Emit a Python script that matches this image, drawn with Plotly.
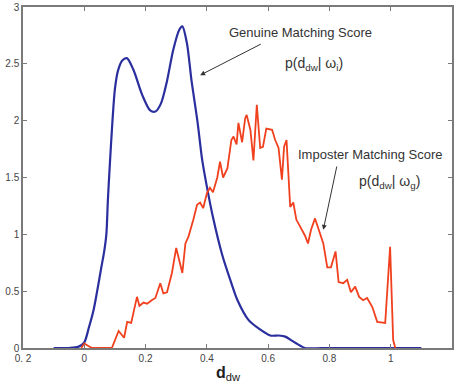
import plotly.graph_objects as go

# Genuine matching score density
genuine_x = [-0.1, -0.05, -0.02, 0.0, 0.015, 0.03, 0.042, 0.055, 0.065, 0.072, 0.077, 0.082,
             0.092, 0.1, 0.11, 0.124, 0.139, 0.16, 0.19, 0.215, 0.232, 0.25, 0.27, 0.29, 0.31, 0.32,
             0.335, 0.35, 0.369, 0.385, 0.4, 0.42, 0.45, 0.48, 0.5, 0.535, 0.57, 0.607, 0.635,
             0.656, 0.68, 0.705, 0.72, 0.8, 0.9, 1.0, 1.1]
genuine_y = [0.0, 0.0, 0.01, 0.05, 0.18, 0.33, 0.5, 0.7, 0.85, 1.0, 1.3, 1.55,
             2.0, 2.28, 2.44, 2.53, 2.55, 2.45, 2.22, 2.09, 2.08, 2.15, 2.35, 2.62, 2.8, 2.83,
             2.68, 2.35, 2.0, 1.65, 1.42, 1.15, 0.82, 0.57, 0.42, 0.25, 0.17, 0.11, 0.11,
             0.1, 0.06, 0.02, 0.0, 0.0, 0.0, 0.0, 0.0]

# Imposter matching score density
imposter_x = [-0.01, 0.0, 0.012, 0.025, 0.07, 0.09, 0.112, 0.13, 0.14, 0.153, 0.172, 0.18,
              0.193, 0.205, 0.22, 0.232, 0.248, 0.258, 0.27, 0.286, 0.3, 0.31, 0.32, 0.33,
              0.34, 0.356, 0.368, 0.378, 0.388, 0.4, 0.41, 0.42, 0.434, 0.443, 0.453, 0.467,
              0.48, 0.487, 0.497, 0.503, 0.515, 0.525, 0.53, 0.542, 0.552, 0.563, 0.574,
              0.583, 0.594, 0.613, 0.623, 0.634, 0.645, 0.652, 0.66, 0.672, 0.682, 0.692,
              0.705, 0.72, 0.73, 0.74, 0.753, 0.77, 0.78, 0.793, 0.805, 0.82, 0.83, 0.845,
              0.858, 0.87, 0.884, 0.897, 0.91, 0.923, 0.94, 0.956, 0.982, 0.998, 1.008, 1.015]
imposter_y = [0.0, 0.04, 0.02, 0.0, 0.0, 0.0, 0.15, 0.09, 0.23, 0.22, 0.45, 0.37,
              0.4, 0.39, 0.42, 0.44, 0.57, 0.48, 0.49, 0.66, 0.88, 0.77, 0.66, 0.92,
              0.98, 1.13, 1.26, 1.28, 1.23, 1.36, 1.41, 1.37, 1.5, 1.64, 1.5, 1.58,
              1.83, 1.86, 1.79, 1.98, 1.81, 2.02, 2.05, 1.92, 1.65, 2.14, 1.76,
              1.77, 1.93, 1.92, 1.83, 1.76, 1.48, 1.77, 1.83, 1.24, 1.28, 1.13,
              1.06, 0.99, 0.92, 1.04, 1.14, 1.01, 0.92, 0.71, 0.71, 0.85, 0.58, 0.57,
              0.6, 0.49, 0.54, 0.45, 0.42, 0.44, 0.36, 0.23, 0.22, 0.89, 0.07, 0.0]

x_tickvals = [-0.2, 0, 0.2, 0.4, 0.6, 0.8, 1.0, 1.2]
x_ticktext = ["0. 2", "0", "0.2", "0.4", "0.6", "0.8", "1", "1.2"]
y_tickvals = [0, 0.5, 1, 1.5, 2, 2.5, 3]
y_ticktext = ["0", "0.5", "1", "1.5", "2", "2.5", "3"]

fig = go.Figure()
fig.add_trace(go.Scatter(x=genuine_x, y=genuine_y, mode="lines",
                         line=dict(color="#2b2f9e", width=2.2, shape="spline", smoothing=0.8),
                         showlegend=False, hoverinfo="skip"))
fig.add_trace(go.Scatter(x=imposter_x, y=imposter_y, mode="lines",
                         line=dict(color="#f0401e", width=1.8),
                         showlegend=False, hoverinfo="skip"))

axis_common = dict(showgrid=False, zeroline=False, showline=True, linecolor="#7a7a7a",
                   linewidth=1.5, mirror="ticks", ticks="inside", ticklen=4, automargin=False,
                   tickcolor="#7a7a7a", tickfont=dict(family="Liberation Sans", size=10, color="#444"))

fig.update_xaxes(range=[-0.2, 1.2], tickvals=x_tickvals, ticktext=x_ticktext, **axis_common)
fig.update_yaxes(range=[0, 3], tickvals=y_tickvals, ticktext=y_ticktext, **axis_common)

font_ann = dict(family="Liberation Sans", size=13, color="#333")
font_p = dict(family="Liberation Sans", size=14, color="#333")

annotations = [
    dict(x=0.705, y=2.78, text="Genuine Matching Score", showarrow=False, font=font_ann),
    dict(x=0.75, y=2.50, text="p(d<sub>dw</sub>| ω<sub>i</sub>)", showarrow=False, font=font_p),
    dict(x=0.933, y=1.70, text="Imposter Matching Score", showarrow=False, font=font_ann),
    dict(x=0.995, y=1.46, text="p(d<sub>dw</sub>| ω<sub>g</sub>)", showarrow=False, font=font_p),
    dict(x=0.378, y=2.40, ax=0.581, ay=2.68, axref="x", ayref="y", text="", showarrow=True,
         arrowhead=2, arrowsize=1, arrowwidth=1, arrowcolor="#333"),
    dict(x=0.78, y=1.04, ax=0.825, ay=1.61, axref="x", ayref="y", text="", showarrow=True,
         arrowhead=2, arrowsize=1, arrowwidth=1, arrowcolor="#333"),
    dict(x=0.478, y=-0.076, xref="paper", yref="paper", xanchor="center", yanchor="middle",
         showarrow=False, text="<b>d</b><sub>dw</sub>",
         font=dict(family="Liberation Sans", size=16, color="#222")),
]

fig.update_layout(width=459, height=387, margin=dict(l=23, r=7, t=7, b=39),
                  paper_bgcolor="white", plot_bgcolor="white", annotations=annotations)

fig.write_html("out.html", config={"displayModeBar": False},
               post_script="document.body.style.margin='0';document.body.style.overflow='hidden';")
